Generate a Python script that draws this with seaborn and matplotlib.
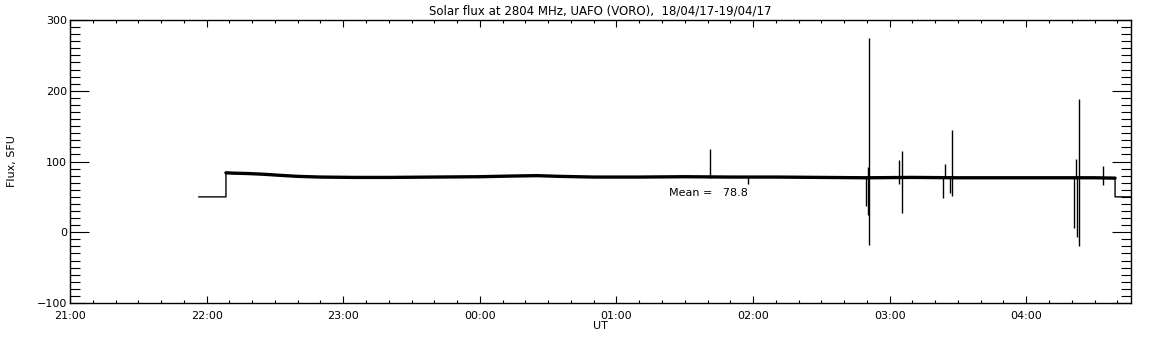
import seaborn as sns
import pandas as pd
import matplotlib.pyplot as plt
from matplotlib.ticker import MultipleLocator

# DATA (minutes after 21:00 UT, flux in SFU)
base_t = [56.5, 68.5, 68.5, 72, 78, 85, 92, 100, 110, 125, 140, 160, 180,
          195, 205, 215, 230, 250, 270, 290, 310, 330, 350, 370, 390, 410,
          430, 450, 459, 459, 466]
base_v = [50, 50, 84, 83.5, 83, 82, 80.5, 79, 78, 77.5, 77.5, 78, 78.5,
          79.5, 80, 79, 78, 78, 78.5, 78, 78, 77.5, 77, 77.5, 77, 77,
          77, 77, 76.5, 50, 50]

spike_t = [281, 297.6, 349.4, 350.3, 351.1, 363.9, 364.3, 365.6, 383.6, 384.5,
           386.3, 387.6, 441.1, 442.0, 442.4, 443.3, 453.9]
spike_hi = [117, 78, 78, 92, 275, 78, 102, 115, 78, 97,
            78, 145, 78, 104, 78, 188, 93]
spike_lo = [77, 68, 37, 25, -18, 68, 77, 27, 48, 77,
            55, 51, 6, 77, -7, -20, 67]

hour_labels = ["21:00", "22:00", "23:00", "00:00", "01:00", "02:00", "03:00", "04:00"]
title = "Solar flux at 2804 MHz, UAFO (VORO),  18/04/17-19/04/17"
mean_text = "Mean =   78.8"

df = pd.DataFrame({"t": base_t, "flux": base_v})
# part of the record with the sun in the beam (noisy band)
sun = df.iloc[2:-2]

sns.set_style("ticks")
plt.rcParams['font.family'] = ['DejaVu Sans']
plt.rcParams['text.color'] = 'black'

fig = plt.figure(figsize=(11.52, 3.45), dpi=100)
ax = fig.add_axes([70 / 1152, 1 - 303 / 345, (1131 - 70) / 1152, (303 - 20) / 345])

# whole record thin, then the noisy band thick on top
sns.lineplot(data=df, x="t", y="flux", sort=False, estimator=None,
             color="black", linewidth=1.0, ax=ax)
sns.lineplot(data=sun, x="t", y="flux", sort=False, estimator=None,
             color="black", linewidth=2.4, ax=ax)
# short spikes
ax.vlines(spike_t, spike_lo, spike_hi, color="black", linewidth=1.0)

ax.text(263, 55, mean_text, fontsize=8, ha="left", va="center", color="black")

ax.set_xlim(0, 466)
ax.set_ylim(-100, 300)
ax.set_xticks([60 * i for i in range(len(hour_labels))])
ax.set_xticklabels(hour_labels)
ax.xaxis.set_minor_locator(MultipleLocator(10))
ax.set_yticks([-100, 0, 100, 200, 300])
ax.yaxis.set_minor_locator(MultipleLocator(10))

ax.tick_params(axis="both", which="both", direction="in", top=True, right=True,
               labelsize=8, colors="black", width=0.8)
ax.tick_params(axis="x", which="major", length=5, pad=6)
ax.tick_params(axis="x", which="minor", length=2.5)
ax.tick_params(axis="y", which="major", length=14, pad=2)
ax.tick_params(axis="y", which="minor", length=7.5)
for s in ax.spines.values():
    s.set_visible(True)
    s.set_color("black")
    s.set_linewidth(1)

ax.set_xlabel("UT", fontsize=8, labelpad=0, color="black")
ax.set_ylabel("Flux, SFU", fontsize=8, labelpad=14, color="black")
ax.set_title(title, fontsize=8.5, pad=4, color="black")

fig.savefig("out.png", dpi=100, facecolor="white")
